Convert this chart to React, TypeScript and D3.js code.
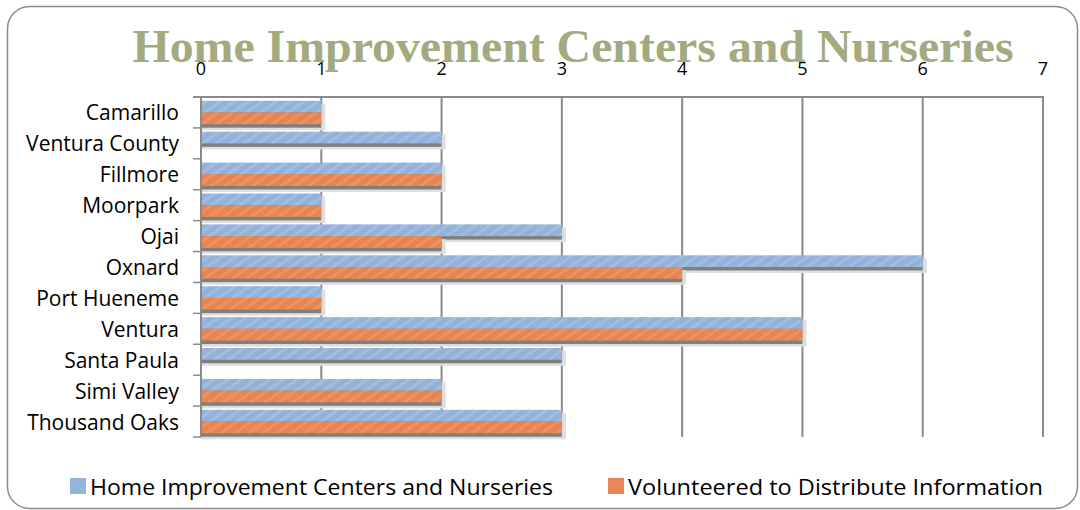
import React from "react";
import * as d3 from "d3";

const categories = [
  "Camarillo",
  "Ventura County",
  "Fillmore",
  "Moorpark",
  "Ojai",
  "Oxnard",
  "Port Hueneme",
  "Ventura",
  "Santa Paula",
  "Simi Valley",
  "Thousand Oaks",
];
const homeImprovement = [1, 2, 2, 1, 3, 6, 1, 5, 3, 2, 3];
const volunteered = [1, 0, 2, 1, 2, 4, 1, 5, 0, 2, 3];
const seriesNames = [
  "Home Improvement Centers and Nurseries",
  "Volunteered to Distribute Information",
];
const xTicks = [0, 1, 2, 3, 4, 5, 6, 7];
const title = "Home Improvement Centers and Nurseries";

const W = 1080;
const H = 510;
const left = 201;
const right = 1043;
const top = 97;
const bottom = 437;
const labelFont = "'Open Sans', 'Noto Sans', sans-serif";

export default function App() {
  const x = d3.scaleLinear().domain([0, 7]).range([left, right]);
  const y = d3.scaleBand<string>().domain(categories).range([top, bottom]).padding(0);
  const inner = d3
    .scaleBand<number>()
    .domain([0, 1])
    .range([0, y.bandwidth()])
    .paddingInner(0)
    .paddingOuter(0.32);
  const series = [homeImprovement, volunteered];
  const fills = ["url(#pBlue)", "url(#pOrange)"];
  const solid = ["#95b4d9", "#e8865a"];
  const legendLens = [463, 415];

  return (
    <svg
      width={W}
      height={H}
      style={{ position: "absolute", left: 0, top: 0, display: "block" }}
    >
      <defs>
        <pattern id="pBlue" width="8" height="8" patternUnits="userSpaceOnUse" patternTransform="rotate(55)">
          <rect width="8" height="8" fill="#93b2d8" />
          <rect width="3" height="8" fill="#a1bde0" />
        </pattern>
        <pattern id="pOrange" width="8" height="8" patternUnits="userSpaceOnUse" patternTransform="rotate(55)">
          <rect width="8" height="8" fill="#e7844f" />
          <rect width="3" height="8" fill="#eb9266" />
        </pattern>
      </defs>
      <rect x={0} y={0} width={W} height={H} fill="#ffffff" />
      <rect
        x={7.5}
        y={6.5}
        width={1070}
        height={502}
        rx={22}
        fill="#ffffff"
        stroke="#8c8c8c"
        strokeWidth={1.5}
      />

      {/* gridlines */}
      {xTicks.map((t) => (
        <line
          key={"g" + t}
          x1={x(t)}
          x2={x(t)}
          y1={top}
          y2={bottom}
          stroke="#8a8a8a"
          strokeWidth={2}
        />
      ))}
      {/* top axis line */}
      <line x1={193} x2={right + 1} y1={top} y2={top} stroke="#8a8a8a" strokeWidth={2} />
      {/* category ticks */}
      {categories.map((c, i) => (
        <line
          key={"t" + i}
          x1={193}
          x2={left}
          y1={(y(c) as number) + y.bandwidth()}
          y2={(y(c) as number) + y.bandwidth()}
          stroke="#8a8a8a"
          strokeWidth={1.5}
        />
      ))}

      {/* shadows */}
      {series.map((vals, s) =>
        categories.map((c, i) => {
          const v = vals[i];
          if (!v) return null;
          const by = (y(c) as number) + (inner(s) as number);
          const bw = x(v) - x(0);
          return (
            <g key={"sh" + s + i}>
              <rect x={x(0)} y={by + 3} width={bw + 4} height={inner.bandwidth() + 3} fill="#dedede" />
              <rect x={x(0)} y={by + 2} width={bw} height={inner.bandwidth() + 1.5} fill="#7f7f7f" />
            </g>
          );
        })
      )}
      {/* bars */}
      {series.map((vals, s) =>
        categories.map((c, i) => {
          const v = vals[i];
          if (!v) return null;
          const by = (y(c) as number) + (inner(s) as number);
          return (
            <rect
              key={"b" + s + i}
              x={x(0)}
              y={by}
              width={x(v) - x(0)}
              height={inner.bandwidth()}
              fill={fills[s]}
            />
          );
        })
      )}
      {/* left axis line */}
      <line x1={left} x2={left} y1={top} y2={bottom} stroke="#8a8a8a" strokeWidth={2} />

      {/* category labels */}
      {categories.map((c) => (
        <text
          key={"l" + c}
          x={179}
          y={(y(c) as number) + y.bandwidth() / 2}
          textAnchor="end"
          dominantBaseline="central"
          fontFamily={labelFont}
          fontSize={21}
          fill="#000"
        >
          {c}
        </text>
      ))}

      {/* title */}
      <text
        x={573}
        y={62}
        textAnchor="middle"
        fontFamily="'Liberation Serif', 'DejaVu Serif', serif"
        fontWeight="bold"
        fontSize={46}
        fill="#a4aa7f"
        textLength={881}
        lengthAdjust="spacingAndGlyphs"
      >
        {title}
      </text>

      {/* x tick labels */}
      {xTicks.map((t) => (
        <text
          key={"xl" + t}
          x={x(t)}
          y={75}
          textAnchor="middle"
          fontFamily={labelFont}
          fontSize={18}
          fill="#000"
        >
          {t}
        </text>
      ))}

      {/* legend */}
      {seriesNames.map((n, s) => {
        const lx = s === 0 ? 70 : 608;
        return (
          <g key={"lg" + s}>
            <rect x={lx} y={478} width={16} height={16} fill={solid[s]} />
            <text
              x={lx + 20}
              y={486}
              dominantBaseline="central"
              fontFamily={labelFont}
              fontSize={22}
              fill="#000"
              textLength={legendLens[s]}
              lengthAdjust="spacingAndGlyphs"
            >
              {n}
            </text>
          </g>
        );
      })}
    </svg>
  );
}
